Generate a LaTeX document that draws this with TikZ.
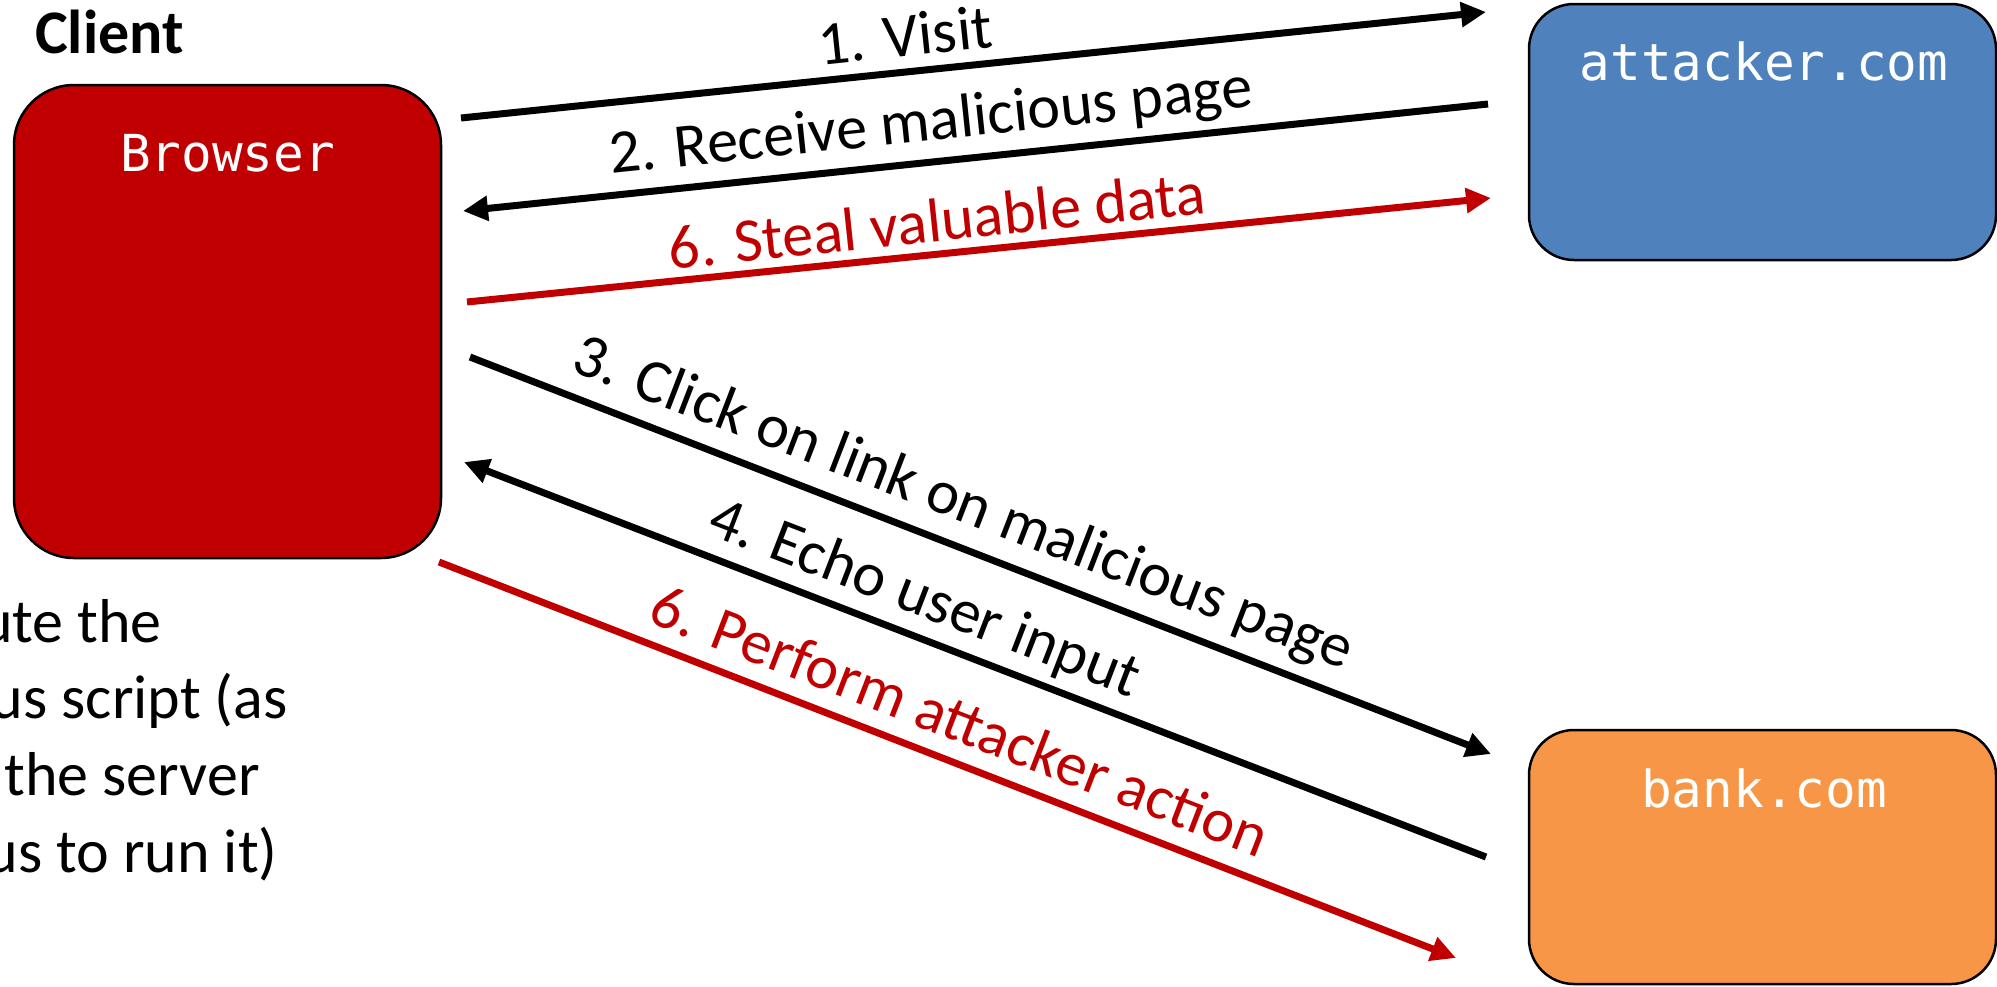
\documentclass[tikz,border=0pt]{standalone}
\usepackage{fontspec}
\setmainfont{Carlito}
\newfontfamily\codefont{DejaVu Sans Mono}
\usetikzlibrary{arrows.meta}
\definecolor{darkred}{HTML}{C00000}
\definecolor{boxblue}{HTML}{4F81BD}
\definecolor{boxorange}{HTML}{F79646}
\begin{document}
\begin{tikzpicture}[x=1pt,y=-1pt,
  box/.style={draw=black, line width=2.5pt, rounded corners=45pt, inner sep=0pt},
  msg/.style={line width=7pt, -{Triangle[length=25pt,width=24pt]}},
  lbl/.style={font=\fontsize{62pt}{74pt}\selectfont, inner sep=0pt},
  code/.style={font=\codefont\fontsize{51pt}{60pt}\selectfont, text=white, inner sep=0pt}]
\useasboundingbox (0,0) rectangle (1997,986);
% boxes
\node[box, fill=darkred, rounded corners=60pt, minimum width=427pt, minimum height=473pt] (browser) at (227.5,321.5) {};
\node[box, fill=boxblue, minimum width=467pt, minimum height=256pt] (attacker) at (1762.5,132) {};
\node[box, fill=boxorange, minimum width=467pt, minimum height=254pt] (bank) at (1762.5,857) {};
\node[code, anchor=base] (browsertxt) at (227.5,171) {Browser};
\node[code, anchor=base] (attackertxt) at (1764,80) {attacker.com};
\node[code, anchor=base] (banktxt) at (1764,807) {bank.com};
\node[font=\bfseries\fontsize{62pt}{74pt}\selectfont, anchor=base west, inner sep=0pt] (client) at (35,53.5) {Client};
% left text (cut at the picture edge)
\node[lbl, anchor=base east] (t1) at (162,642) {ute the};
\node[lbl, anchor=base east] (t2) at (288,718) {us script (as};
\node[lbl, anchor=base east] (t3) at (260,795) {the server};
\node[lbl, anchor=base east] (t4) at (278,872) {us to run it)};
% connector end points
\coordinate (a1s) at (461,118);  \coordinate (a1e) at (1486,12);
\coordinate (a2s) at (1488,104); \coordinate (a2e) at (463,211);
\coordinate (a6s) at (467,302);  \coordinate (a6e) at (1491,198);
\coordinate (a3s) at (470,357);  \coordinate (a3e) at (1491,754);
\coordinate (a4s) at (1486,857); \coordinate (a4e) at (464,462);
\coordinate (a7s) at (439,562);  \coordinate (a7e) at (1456,958);
% connectors
\draw[msg] (a1s) -- (a1e);
\draw[msg] (a2s) -- (a2e);
\draw[msg, darkred] (a6s) -- (a6e);
\draw[msg] (a3s) -- (a3e);
\draw[msg] (a4s) -- (a4e);
\draw[msg, darkred] (a7s) -- (a7e);
% labels
\node[lbl, rotate=6] (l1) at (905,35) {1. Visit};
\node[lbl, rotate=6] (l2) at (931,124) {2. Receive malicious page};
\node[lbl, rotate=6, text=darkred] (l6a) at (937,220) {6. Steal valuable data};
\node[lbl, rotate=-21.1] (l3) at (963,505) {3. Click on link on malicious page};
\node[lbl, rotate=-21.1] (l4) at (924,600) {4. Echo user input};
\node[lbl, rotate=-21.1, text=darkred] (l6b) at (960,720) {6. Perform attacker action};
\end{tikzpicture}
\end{document}
